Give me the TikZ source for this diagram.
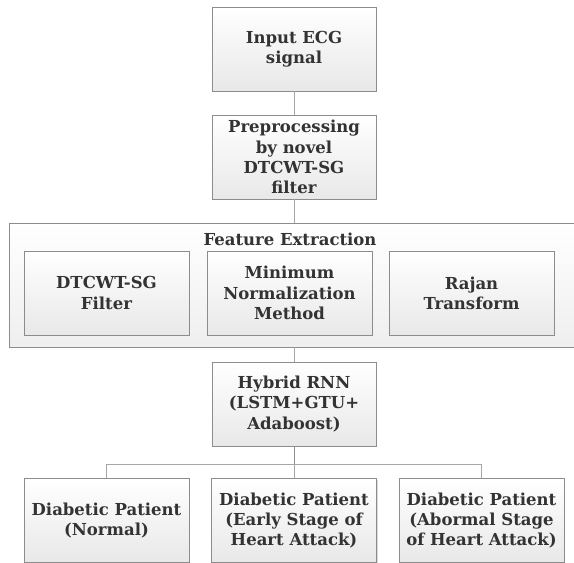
\documentclass[tikz,border=0pt]{standalone}
\usepackage{fontspec}
\setmainfont{DejaVu Serif}
\usetikzlibrary{shadows}
\definecolor{txt}{HTML}{333333}
\definecolor{bord}{HTML}{8C8C8C}
\definecolor{conn}{HTML}{A6A6A6}
\tikzset{
  box/.style={draw=bord, line width=0.8pt, top color=white, bottom color=gray!18,
    minimum width=164pt, minimum height=84pt, align=center, text=txt,
    font=\fontsize{16.5}{20.3}\selectfont\bfseries, inner sep=1pt,
    drop shadow={shadow xshift=1.2pt, shadow yshift=-1.2pt, fill=gray!50, opacity=0.6}},
  outer/.style={draw=bord, line width=0.8pt, top color=white, bottom color=gray!13,
    minimum width=570pt, minimum height=124pt,
    drop shadow={shadow xshift=1.2pt, shadow yshift=-1.2pt, fill=gray!50, opacity=0.6}},
  conline/.style={draw=conn, line width=0.9pt},
  ttl/.style={text=txt, font=\fontsize{16.5}{20.3}\selectfont\bfseries}
}
\begin{document}
\begin{tikzpicture}[x=1pt,y=-1pt]
\useasboundingbox[fill=white] (0,0) rectangle (574,563);
\node[box] (in) at (294,49) {Input ECG\\signal};
\node[box] (pre) at (294,157) {Preprocessing\\by novel\\DTCWT-SG\\filter};
\node[outer] (fe) at (294,285) {};
\node[ttl] (fet) at (290,239) {Feature Extraction};
\node[box, minimum width=165pt] (f1) at (106.5,293) {DTCWT-SG\\Filter};
\node[box, minimum width=165pt] (f2) at (289.5,293) {Minimum\\Normalization\\Method};
\node[box, minimum width=165pt] (f3) at (471.5,293) {Rajan\\Transform};
\node[box] (hy) at (294,404) {Hybrid RNN\\(LSTM+GTU+\\Adaboost)};
\node[box, minimum width=165pt] (b1) at (106.5,520.5) {Diabetic Patient\\(Normal)};
\node[box, minimum width=165pt] (b2) at (294,520.5) {Diabetic Patient\\(Early Stage of\\Heart Attack)};
\node[box, minimum width=165pt] (b3) at (481.5,520.5) {Diabetic Patient\\(Abormal Stage\\of Heart Attack)};
\draw[conline] (in) -- (pre);
\draw[conline] (pre) -- (fe);
\draw[conline] (fe) -- (hy);
\coordinate (j) at (294,464);
\draw[draw=bord, line width=1pt] (hy) -- (j);
\draw[conline] (j) -| (b1);
\draw[conline] (j) -| (b3);
\draw[conline] (j) -- (b2);
\end{tikzpicture}
\end{document}
